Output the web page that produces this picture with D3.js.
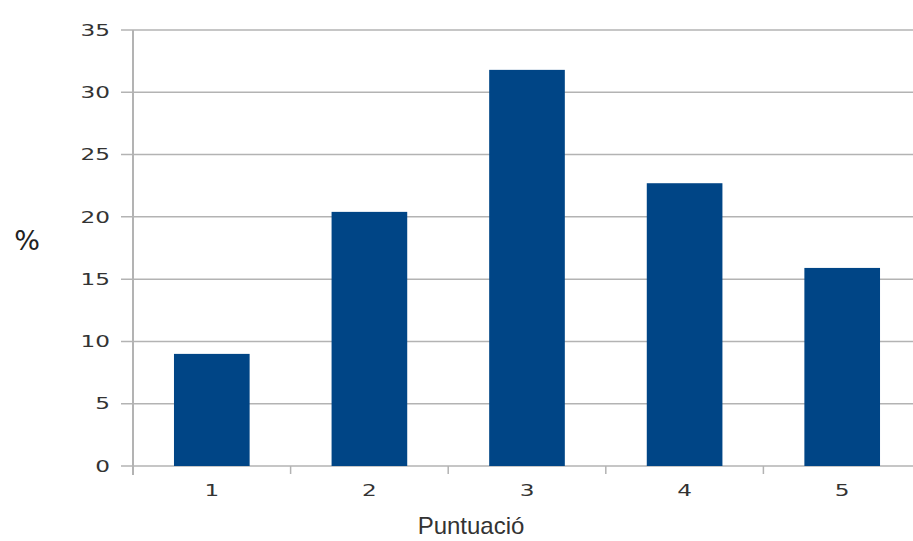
<!DOCTYPE html>
<html>
<head>
<meta charset="utf-8">
<script src="https://cdn.jsdelivr.net/npm/d3@7"></script>
<style>
  body { margin: 0; background: #fff; }
  svg { display: block; }
</style>
</head>
<body>
<div id="chart"></div>
<script>
// chart values
const categories = ['1', '2', '3', '4', '5'];
const percentages = [9.0, 20.4, 31.8, 22.7, 15.9];
const yTicks = [0, 5, 10, 15, 20, 25, 30, 35];
const xTitle = 'Puntuació';
const yTitle = '%';

const width = 913, height = 541;
const margin = {top: 30, right: -8, bottom: 75, left: 133};
const innerW = width - margin.left - margin.right;
const innerH = height - margin.top - margin.bottom;

const svg = d3.select('#chart')
    .append('svg')
    .attr('width', width)
    .attr('height', height);

const g = svg.append('g')
    .attr('transform', `translate(${margin.left},${margin.top})`);

const x = d3.scaleBand()
    .domain(categories)
    .range([0, innerW])
    .paddingInner(0.52)
    .paddingOuter(0.26);

const y = d3.scaleLinear()
    .domain([0, 35])
    .range([innerH, 0]);

const gridColor = '#b3b3b3';
const labelColor = '#333';

// horizontal grid lines + y tick labels
g.selectAll('.grid')
    .data(yTicks)
    .enter()
    .append('line')
    .attr('class', 'grid')
    .attr('x1', -12)
    .attr('x2', width - margin.left)
    .attr('y1', d => y(d))
    .attr('y2', d => y(d))
    .attr('stroke', gridColor)
    .attr('stroke-width', 1.5);

g.selectAll('.ylabel')
    .data(yTicks)
    .enter()
    .append('text')
    .attr('class', 'ylabel')
    .attr('transform', d => `translate(-23,${y(d)}) scale(1.45,1)`)
    .attr('text-anchor', 'end')
    .attr('dy', '0.36em')
    .style('font-family', 'DejaVu Sans')
    .style('font-size', '16px')
    .style('fill', labelColor)
    .text(d => d);

// bars
g.selectAll('.bar')
    .data(percentages)
    .enter()
    .append('rect')
    .attr('class', 'bar')
    .attr('x', (d, i) => x(categories[i]))
    .attr('y', d => y(d))
    .attr('width', x.bandwidth())
    .attr('height', d => innerH - y(d))
    .attr('fill', '#004586');

// y axis line
g.append('line')
    .attr('x1', 0).attr('x2', 0)
    .attr('y1', 0).attr('y2', innerH + 9)
    .attr('stroke', gridColor)
    .attr('stroke-width', 2);

// category separator ticks
const step = x.step();
g.selectAll('.xtick')
    .data(categories.slice(1))
    .enter()
    .append('line')
    .attr('class', 'xtick')
    .attr('x1', (d, i) => step * (i + 1))
    .attr('x2', (d, i) => step * (i + 1))
    .attr('y1', innerH)
    .attr('y2', innerH + 8)
    .attr('stroke', gridColor)
    .attr('stroke-width', 1.5);

// x tick labels
g.selectAll('.xlabel')
    .data(categories)
    .enter()
    .append('text')
    .attr('class', 'xlabel')
    .attr('transform', d => `translate(${x(d) + x.bandwidth() / 2},${innerH + 24}) scale(1.45,1)`)
    .attr('text-anchor', 'middle')
    .attr('dy', '0.36em')
    .style('font-family', 'DejaVu Sans')
    .style('font-size', '16px')
    .style('fill', labelColor)
    .text(d => d);

// axis titles
svg.append('text')
    .attr('x', 471)
    .attr('y', 534)
    .attr('text-anchor', 'middle')
    .style('font-family', 'Liberation Sans')
    .style('font-size', '24px')
    .style('fill', labelColor)
    .text(xTitle);

svg.append('text')
    .attr('x', 27)
    .attr('y', 250)
    .attr('text-anchor', 'middle')
    .style('font-family', 'DejaVu Sans')
    .style('font-size', '27px')
    .style('fill', '#222')
    .text(yTitle);
</script>
</body>
</html>
